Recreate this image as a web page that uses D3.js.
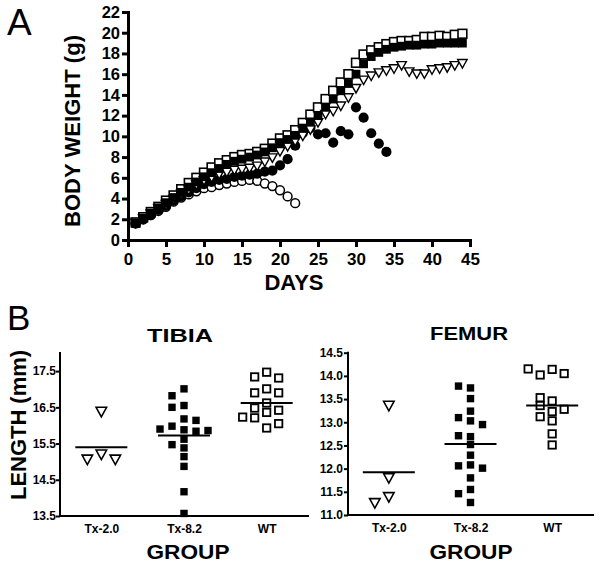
<!DOCTYPE html>
<html><head><meta charset="utf-8">
<script src="https://cdn.jsdelivr.net/npm/d3@7"></script>
<style>body{margin:0;background:#fff} text{font-family:"Liberation Sans",Arial,Helvetica,sans-serif}</style>
</head><body><svg id="c" width="600" height="565"></svg>
<script>
// ---------- Panel A data: body weight (g) by day ----------
const days = [1,2,3,4,5,6,7,8,9,10,11,12,13,14,15,16,17,18,19,20,21,22,23,24,25,26,27,28,29,30,31,32,33,34,35,36,37,38,39,40,41,42,43,44];
const wtOpenSquares = [1.7,2.2,2.7,3.2,3.8,4.3,4.9,5.5,6.0,6.5,7.0,7.4,7.7,8.0,8.2,8.3,8.5,8.8,9.3,9.8,10.1,10.6,11.3,12.1,12.8,13.6,14.4,15.2,16.0,17.1,17.9,18.3,18.6,18.9,19.1,19.2,19.2,19.3,19.6,19.6,19.7,19.6,19.8,19.9];
const filledSquares = [1.6,2.1,2.6,3.1,3.6,4.1,4.6,5.1,5.6,6.1,6.5,6.9,7.3,7.6,7.8,8.0,8.2,8.5,8.9,9.4,9.7,10.1,10.8,11.4,12.0,12.8,13.6,14.4,15.1,16.0,17.0,17.7,18.1,18.4,18.6,18.7,18.8,18.8,18.9,18.9,19.0,19.0,19.0,19.0];
const openTriangles = [1.6,2.0,2.5,3.0,3.4,3.9,4.4,4.8,5.3,5.7,6.0,6.3,6.5,6.7,6.8,6.9,7.1,7.5,7.9,8.5,9.0,9.5,10.0,10.6,11.3,12.1,12.4,12.9,13.7,14.6,15.4,15.8,16.1,16.3,16.5,16.8,16.2,16.0,16.0,16.4,16.5,16.6,16.8,17.0];
const filledCircles = [1.6,2.0,2.4,2.9,3.3,3.8,4.2,4.6,5.0,5.4,5.6,5.8,5.9,6.1,6.2,6.3,6.4,6.6,6.7,7.2,7.8,9.1,10.3,10.8,10.2,10.3,9.4,10.5,10.2,12.8,11.8,10.3,9.3,8.5];
const openCircles = [1.6,2.0,2.4,2.8,3.2,3.7,4.1,4.4,4.7,5.0,5.1,5.3,5.45,5.6,5.7,5.8,5.7,5.45,5.2,4.8,4.2,3.55];
const weightTicks = [0,2,4,6,8,10,12,14,16,18,20,22];
const dayTicks = [0,5,10,15,20,25,30,35,40,45];

// ---------- Panel B data ----------
const groups = ["Tx-2.0","Tx-8.2","WT"];
const tibiaTx20 = [16.37,15.19,15.05,15.05];
const tibiaTx82 = [17.01,16.82,16.55,16.50,16.18,15.98,16.14,15.88,15.84,15.90,15.86,15.62,15.47,15.38,15.14,14.87,14.17,13.57];
const tibiaWT = [17.47,17.34,17.31,17.01,16.90,16.90,16.62,16.48,16.42,16.36,16.21,16.23,15.93,16.05];
const tibiaMeans = [15.40,15.72,16.62];
const tibiaTicks = [13.5,14.5,15.5,16.5,17.5];
const femurTx20 = [13.35,11.79,11.38,11.25];
const femurTx82 = [13.74,13.78,13.51,13.24,13.03,13.10,12.95,12.69,12.71,12.52,12.29,12.08,12.06,12.01,11.80,11.55,11.46,11.27];
const femurWT = [14.14,14.02,14.05,14.15,13.46,13.53,13.36,13.23,13.28,13.12,13.03,12.75,12.51];
const femurMeans = [11.92,12.53,13.36];
const femurTicks = [11.0,11.5,12.0,12.5,13.0,13.5,14.0,14.5];

const svg = d3.select("#c");
const BF = '"Liberation Sans",Arial,sans-serif';

function triPath(w,h){ return `M${-w/2},${-h/2}L${w/2},${-h/2}L0,${h/2}Z`; }

// ================= PANEL A =================
const xA = d3.scaleLinear().domain([0,45]).range([128,470]);
const yA = d3.scaleLinear().domain([0,22]).range([240,12]);
const gA = svg.append("g");

function styleAxis(g, sw, fs){
  g.select(".domain").attr("stroke","#000").attr("stroke-width",sw).attr("stroke-linecap","square");
  g.selectAll(".tick line").attr("stroke","#000").attr("stroke-width",sw);
  g.selectAll(".tick text").attr("fill","#000").attr("font-weight","bold").attr("font-size",fs).attr("font-family",BF);
}
const axYA = gA.append("g").attr("transform","translate(128,0)")
  .call(d3.axisLeft(yA).tickValues(weightTicks).tickSize(6).tickSizeOuter(0).tickPadding(2));
styleAxis(axYA,3,"16.5px");
const axXA = gA.append("g").attr("transform","translate(0,240)")
  .call(d3.axisBottom(xA).tickValues(dayTicks).tickSize(7).tickSizeOuter(0).tickPadding(6));
styleAxis(axXA,3,"17px");

const pts = (vals)=> vals.map((v,i)=>({d:days[i], v}));
const S = 8.8;
// open circles
gA.append("g").selectAll("circle").data(pts(openCircles)).join("circle")
  .attr("cx",p=>xA(p.d)).attr("cy",p=>yA(p.v)).attr("r",4.4)
  .attr("fill","#fff").attr("stroke","#000").attr("stroke-width",1.5);
// filled circles
gA.append("g").selectAll("circle").data(pts(filledCircles)).join("circle")
  .attr("cx",p=>xA(p.d)).attr("cy",p=>yA(p.v)).attr("r",5.1)
  .attr("fill","#000");
// open squares
gA.append("g").selectAll("rect").data(pts(wtOpenSquares)).join("rect")
  .attr("x",p=>xA(p.d)-S/2).attr("y",p=>yA(p.v)-S/2).attr("width",S).attr("height",S)
  .attr("fill","#fff").attr("stroke","#000").attr("stroke-width",1.6);
// open triangles
gA.append("g").selectAll("path").data(pts(openTriangles)).join("path")
  .attr("d",triPath(9.5,8.5)).attr("transform",p=>`translate(${xA(p.d)},${yA(p.v)})`)
  .attr("fill","#fff").attr("stroke","#000").attr("stroke-width",1.4).attr("stroke-linejoin","miter");
// filled squares
gA.append("g").selectAll("rect").data(pts(filledSquares)).join("rect")
  .attr("x",p=>xA(p.d)-S/2).attr("y",p=>yA(p.v)-S/2).attr("width",S).attr("height",S)
  .attr("fill","#000");

svg.append("text").attr("x",7).attr("y",35).attr("font-size","37px").attr("font-family",BF).text("A");
svg.append("text").attr("transform","translate(80,131) rotate(-90)").attr("text-anchor","middle")
  .attr("font-size","22px").attr("font-weight","bold").attr("textLength",192).attr("lengthAdjust","spacingAndGlyphs").text("BODY WEIGHT (g)");
svg.append("text").attr("x",294).attr("y",290).attr("text-anchor","middle")
  .attr("font-size","22px").attr("font-weight","bold").text("DAYS");

// ================= PANEL B =================
function beeswarm(vals, cx, y, step, minDx, minDy){
  const placed=[];
  return vals.map(v=>{
    const py=y(v);
    let px=cx;
    for(let k=0;k<60;k++){
      const m = k===0?0:(k%2===1? -Math.ceil(k/2): Math.ceil(k/2));
      const c = cx + m*step;
      if(!placed.some(q=>Math.abs(q.x-c)<minDx && Math.abs(q.y-py)<minDy)){ px=c; break; }
    }
    const p={x:px,y:py,v}; placed.push(p); return p;
  });
}

function dotPanel(opts){
  const {x0,x1,yDom,yRange,ticks,data,means,title,titleX,titleY,groupX,tickRight} = opts;
  const g = svg.append("g");
  const x = d3.scalePoint().domain(groups).range([x0,x1]).padding(0.5);
  const y = d3.scaleLinear().domain(yDom).range(yRange);
  const ay = g.append("g").attr("transform",`translate(${x0},0)`)
    .call(d3.axisLeft(y).tickValues(ticks).tickFormat(d3.format(".1f")).tickSize(4).tickSizeOuter(0).tickPadding(tickRight));
  styleAxis(ay,2,"12px");
  ay.select(".domain").attr("d",`M0,${yRange[1]}V${yRange[0]}`);
  const ax = g.append("g").attr("transform",`translate(0,${yRange[0]})`)
    .call(d3.axisBottom(x).tickSize(0).tickSizeOuter(0).tickPadding(8.5));
  styleAxis(ax,2,"12px");
  ax.select(".domain").attr("d",`M${x0},0H${opts.axisEnd}`);
  const sq=7.4;
  groups.forEach((grp,gi)=>{
    const cx = x(grp);
    const ps = gi===0 ? beeswarm(data[gi], cx, y, 7, 13, 9) : beeswarm(data[gi], cx, y, 6, 11, 7.5);
    const gg = g.append("g");
    if(gi===0){
      gg.selectAll("path").data(ps).join("path").attr("d",triPath(10.5,9.5))
        .attr("transform",p=>`translate(${p.x},${p.y})`)
        .attr("fill","#fff").attr("stroke","#000").attr("stroke-width",1.6);
    } else {
      gg.selectAll("rect").data(ps).join("rect")
        .attr("x",p=>p.x-sq/2).attr("y",p=>p.y-sq/2).attr("width",sq).attr("height",sq)
        .attr("fill",gi===1?"#000":"#fff").attr("stroke",gi===1?"none":"#000").attr("stroke-width",1.8);
    }
    g.append("line").attr("x1",cx-26).attr("x2",cx+26).attr("y1",y(means[gi])).attr("y2",y(means[gi]))
      .attr("stroke","#000").attr("stroke-width",2);
  });
  svg.append("text").attr("x",titleX).attr("y",titleY).attr("text-anchor","middle")
    .attr("font-size","19px").attr("font-weight","bold").attr("textLength",opts.titleLen).attr("lengthAdjust","spacingAndGlyphs").text(title);
  svg.append("text").attr("x",groupX).attr("y",559).attr("text-anchor","middle")
    .attr("font-size","20px").attr("font-weight","bold").attr("textLength",83).attr("lengthAdjust","spacingAndGlyphs").text("GROUP");
}

dotPanel({x0:60,x1:308,axisEnd:308,yDom:[13.5,18],yRange:[516,353],ticks:tibiaTicks,
  data:[tibiaTx20,tibiaTx82,tibiaWT],means:tibiaMeans,title:"TIBIA",titleX:180,titleY:342,titleLen:66,groupX:188,tickRight:0});
dotPanel({x0:348,x1:593,axisEnd:593,yDom:[11,14.5],yRange:[515,352.7],ticks:femurTicks,
  data:[femurTx20,femurTx82,femurWT],means:femurMeans,title:"FEMUR",titleX:469,titleY:340,titleLen:78,groupX:471,tickRight:1});

svg.append("text").attr("x",7).attr("y",330).attr("font-size","35px").attr("font-family",BF).text("B");
svg.append("text").attr("transform","translate(26,425) rotate(-90)").attr("text-anchor","middle")
  .attr("font-size","22px").attr("font-weight","bold").attr("textLength",150).attr("lengthAdjust","spacingAndGlyphs").text("LENGTH (mm)");
</script></body></html>
